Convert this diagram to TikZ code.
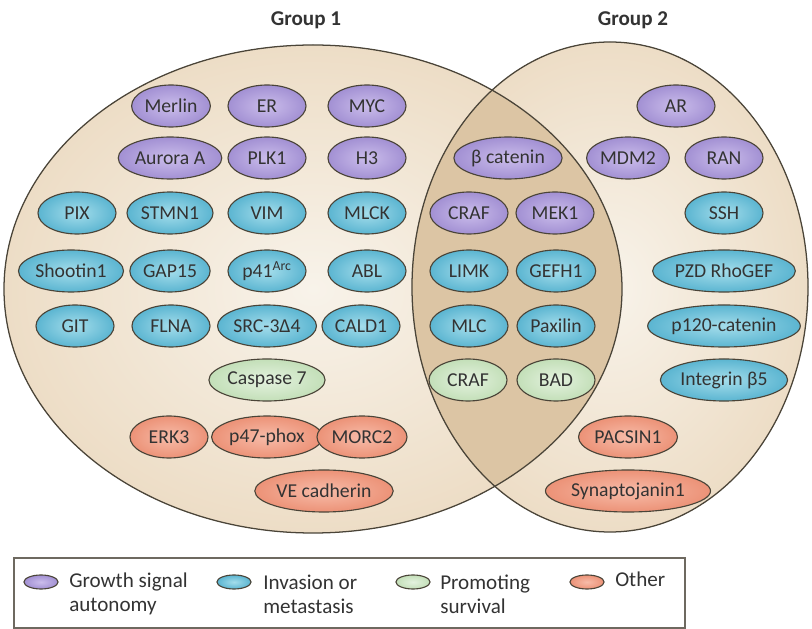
\documentclass[tikz,border=0pt]{standalone}
\usepackage{fontspec}
\setmainfont{Carlito}
\usetikzlibrary{shapes.geometric}
\definecolor{edge}{HTML}{4A4438}
\definecolor{txt}{HTML}{333333}
\definecolor{grpin}{HTML}{F8F3EA}
\definecolor{grpout}{HTML}{EDDDC6}
\definecolor{both}{HTML}{DCC5A4}
\definecolor{growin}{HTML}{CBBDEB}
\definecolor{growout}{HTML}{A290D3}
\definecolor{invin}{HTML}{A4DDEB}
\definecolor{invout}{HTML}{5BB5D1}
\definecolor{survin}{HTML}{E4F2DF}
\definecolor{survout}{HTML}{C3DFB8}
\definecolor{othin}{HTML}{F7BCA9}
\definecolor{othout}{HTML}{EC9277}
\begin{document}
\begin{tikzpicture}[x=0.025cm,y=-0.025cm,
 prot/.style={ellipse,draw=edge,line width=0.8pt,minimum width=1.95cm,minimum height=1.05cm,inner sep=1pt,font=\fontsize{14}{16}\selectfont,text=txt},
 growth/.style={prot,inner color=growin,outer color=growout},
 invasion/.style={prot,inner color=invin,outer color=invout},
 survival/.style={prot,inner color=survin,outer color=survout},
 othr/.style={prot,inner color=othin,outer color=othout},
 keyicon/.style={ellipse,draw=edge,line width=0.8pt,minimum width=0.85cm,minimum height=0.35cm,inner sep=0pt},
 keytxt/.style={anchor=west,align=left,inner sep=0pt,font=\fontsize{15}{17}\selectfont,text=txt},
 title/.style={font=\fontsize{15}{17}\selectfont\bfseries,text=txt}
]
\useasboundingbox (0,0) rectangle (812,629);
% the two groups
\fill[inner color=grpin,outer color=grpout] (313,289) ellipse [x radius=309,y radius=244];
\fill[inner color=grpin,outer color=grpout] (610,287) ellipse [x radius=198,y radius=245];
\begin{scope}
 \clip (313,289) ellipse [x radius=309,y radius=244];
 \fill[both] (610,287) ellipse [x radius=198,y radius=245];
\end{scope}
\draw[edge,line width=0.9pt] (313,289) ellipse [x radius=309,y radius=244];
\draw[edge,line width=0.9pt] (610,287) ellipse [x radius=198,y radius=245];
\node[title] (g1) at (306,20) {Group 1};
\node[title] (g2) at (633,20) {Group 2};
% group 1 only
\node[growth] (merlin) at (171,106) {Merlin};
\node[growth] (er) at (267,106) {ER};
\node[growth] (myc) at (367,106) {MYC};
\node[growth] (aurora) at (170,158) {Aurora A};
\node[growth] (plk) at (267,158) {PLK1};
\node[growth] (h3) at (367,158) {H3};
\node[invasion] (pix) at (77,213) {PIX};
\node[invasion] (stmn) at (170,213) {STMN1};
\node[invasion] (vim) at (267,213) {VIM};
\node[invasion] (mlck) at (367,213) {MLCK};
\node[invasion] (shootin) at (71,271) {Shootin1};
\node[invasion] (gap) at (170,271) {GAP15};
\node[invasion] (parc) at (267,271) {p41\textsuperscript{Arc}};
\node[invasion] (abl) at (367,271) {ABL};
\node[invasion] (git) at (75,326) {GIT};
\node[invasion] (flna) at (171,326) {FLNA};
\node[invasion] (src) at (267,326) {SRC-3Δ4};
\node[invasion] (cald) at (361,326) {CALD1};
\node[survival] (casp) at (267,380) {Caspase 7};
\node[othr] (erk) at (169,437) {ERK3};
\node[othr] (phox) at (267,437) {p47-phox};
\node[othr] (morc) at (362,437) {MORC2};
\node[othr] (vecad) at (324,491) {VE cadherin};
% both groups
\node[growth] (bcat) at (508,158) {β catenin};
\node[growth] (craf) at (469,213) {CRAF};
\node[growth] (mek) at (555,213) {MEK1};
\node[invasion] (limk) at (469,271) {LIMK};
\node[invasion] (gefh) at (556,271) {GEFH1};
\node[invasion] (mlc) at (469,326) {MLC};
\node[invasion] (paxilin) at (556,326) {Paxilin};
\node[survival] (craf2) at (468,380) {CRAF};
\node[survival] (bad) at (556,380) {BAD};
% group 2 only
\node[growth] (ar) at (676,106) {AR};
\node[growth] (mdm) at (628,158) {MDM2};
\node[growth] (ran) at (724,158) {RAN};
\node[invasion] (ssh) at (724,213) {SSH};
\node[invasion] (pzd) at (724,271) {PZD RhoGEF};
\node[invasion] (pcat) at (724,326) {p120-catenin};
\node[invasion] (itg) at (724,380) {Integrin β5};
\node[othr] (pacsin) at (628,437) {PACSIN1};
\node[othr] (synj) at (628,491) {Synaptojanin1};
% key
\draw[edge!80,line width=1pt] (14,558) rectangle (685,628);
\node[keyicon,inner color=growin,outer color=growout] (k1) at (41,582) {};
\node[keytxt] (t1) at (69,594) {Growth signal\\autonomy};
\node[keyicon,inner color=invin,outer color=invout] (k2) at (234,582) {};
\node[keytxt] (t2) at (263,594) {Invasion or\\metastasis};
\node[keyicon,inner color=survin,outer color=survout] (k3) at (413,582) {};
\node[keytxt] (t3) at (440,594) {Promoting\\survival};
\node[keyicon,inner color=othin,outer color=othout] (k4) at (587,582) {};
\node[keytxt,anchor=base west] (t4) at (615,587) {Other};
\end{tikzpicture}
\end{document}
